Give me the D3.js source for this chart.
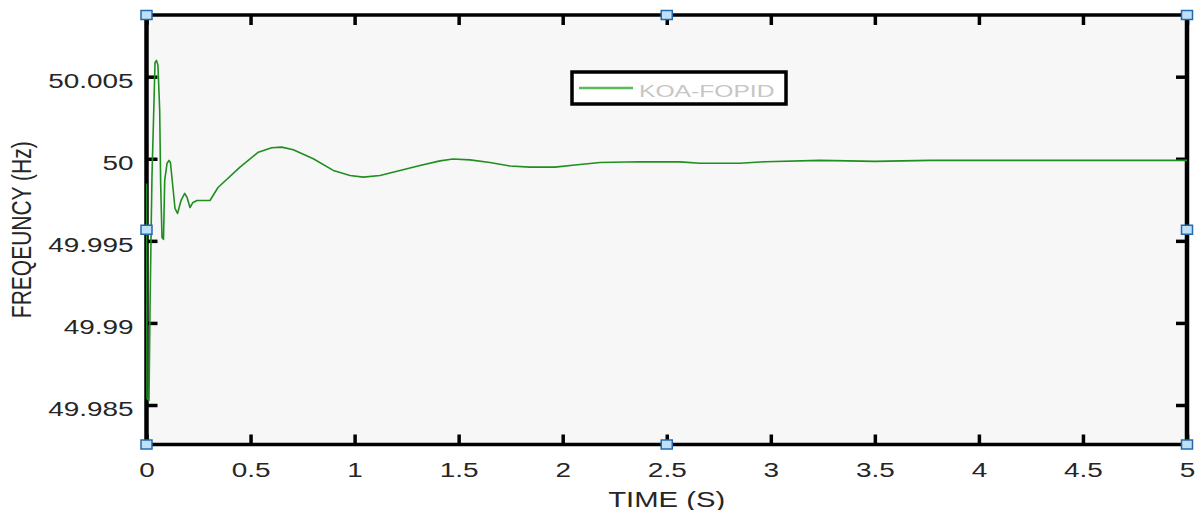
<!DOCTYPE html>
<html>
<head>
<meta charset="utf-8">
<script src="https://cdn.jsdelivr.net/npm/d3@7"></script>
<style>
  html, body { margin: 0; padding: 0; background: #ffffff; }
  svg { display: block; font-family: "Liberation Sans", Arial, sans-serif; }
</style>
</head>
<body>
<svg id="chart" width="1198" height="510"></svg>
<script>
// Frequency response of the KOA-FOPID controlled system
const timeS = [
  0, 0.0024, 0.012, 0.0168, 0.0216, 0.0264, 0.0336, 0.041, 0.048, 0.055,
  0.0634, 0.068, 0.0745, 0.0817, 0.0875, 0.0985, 0.108, 0.115, 0.127, 0.137,
  0.149, 0.166, 0.1836, 0.195, 0.209, 0.2234, 0.2427, 0.305, 0.3436, 0.4493,
  0.5372, 0.6016, 0.6497, 0.7054, 0.8015, 0.8976, 0.9779, 1.0418, 1.1221, 1.2182,
  1.3143, 1.4104, 1.4728, 1.5545, 1.6506, 1.7468, 1.8429, 1.963, 2.0591, 2.1792,
  2.3714, 2.5637, 2.6598, 2.852, 2.972, 3.236, 3.5, 3.765, 5.0
];
const freqHz = [
  49.9985, 49.9854, 49.98528, 49.99076, 49.99502, 49.99898, 50.00233, 50.00587, 50.00599, 50.00569,
  50.00294, 49.9985, 49.99521, 49.99509, 49.99868, 49.99971, 49.9999, 49.99977, 49.99825, 49.99697,
  49.99667, 49.99746, 49.99789, 49.99764, 49.99703, 49.99734, 49.99746, 49.99746, 49.99825, 49.99949,
  50.0004, 50.00067, 50.00071, 50.00055, 50.0, 49.99929, 49.99898, 49.99888, 49.99898, 49.99929,
  49.99959, 49.99987, 49.99999, 49.99993, 49.99977, 49.99956, 49.99949, 49.99949, 49.99962, 49.99977,
  49.99982, 49.99981, 49.99973, 49.99973, 49.99982, 49.9999, 49.99984, 49.9999, 49.9999
];
const xTickValues = [0, 0.5, 1, 1.5, 2, 2.5, 3, 3.5, 4, 4.5, 5];
const xTickLabels = ["0", "0.5", "1", "1.5", "2", "2.5", "3", "3.5", "4", "4.5", "5"];
const yTickValues = [49.985, 49.99, 49.995, 50, 50.005];
const yTickLabels = ["49.985", "49.99", "49.995", "50", "50.005"];
const seriesName = "KOA-FOPID";
const xTitle = "TIME (S)";
const yTitle = "FREQEUNCY (Hz)";

const svg = d3.select("#chart");
const plotL = 146.5, plotR = 1187, plotT = 15, plotB = 444.5;
const stretch = 1.33;

const x = d3.scaleLinear().domain([0, 5]).range([plotL, plotR]);
const y = d3.scaleLinear().domain([49.982594, 50.008758]).range([plotB, plotT]);

svg.append("defs").append("clipPath").attr("id", "plot-clip")
  .append("rect")
  .attr("x", plotL - 1).attr("y", plotT)
  .attr("width", plotR - plotL + 2).attr("height", plotB - plotT);

// plot background
svg.append("rect")
  .attr("x", plotL).attr("y", plotT)
  .attr("width", plotR - plotL).attr("height", plotB - plotT)
  .attr("fill", "#f7f7f7");

// axes with inward ticks on all four sides
function styleTicks(g) {
  g.select(".domain").remove();
  g.selectAll(".tick line").attr("stroke", "#000").attr("stroke-width", 3.5);
}

const xBottom = svg.append("g")
  .attr("transform", `translate(0,${plotB})`)
  .call(d3.axisBottom(x).tickValues(xTickValues).tickFormat((d, i) => xTickLabels[i])
    .tickSizeInner(-10).tickSizeOuter(0));
styleTicks(xBottom);
xBottom.selectAll(".tick text")
  .attr("y", 0).attr("dy", null)
  .attr("transform", `translate(0,32) scale(${stretch},1)`)
  .attr("font-size", 21).attr("fill", "#262626")
  .attr("font-family", "Liberation Sans, Arial, sans-serif");

const xTop = svg.append("g")
  .attr("transform", `translate(0,${plotT})`)
  .call(d3.axisTop(x).tickValues(xTickValues).tickFormat("")
    .tickSizeInner(-10).tickSizeOuter(0));
styleTicks(xTop);

const yLeft = svg.append("g")
  .attr("transform", `translate(${plotL},0)`)
  .call(d3.axisLeft(y).tickValues(yTickValues).tickFormat((d, i) => yTickLabels[i])
    .tickSizeInner(-11).tickSizeOuter(0));
styleTicks(yLeft);
yLeft.selectAll(".tick text")
  .attr("x", 0).attr("dy", null)
  .attr("text-anchor", "end")
  .attr("transform", `translate(-13,10.5) scale(${stretch},1)`)
  .attr("font-size", 21).attr("fill", "#262626")
  .attr("font-family", "Liberation Sans, Arial, sans-serif");

const yRight = svg.append("g")
  .attr("transform", `translate(${plotR},0)`)
  .call(d3.axisRight(y).tickValues(yTickValues).tickFormat("")
    .tickSizeInner(-11).tickSizeOuter(0));
styleTicks(yRight);

// box frame
const frame = svg.append("g").attr("stroke", "#000");
frame.append("line").attr("x1", plotL).attr("x2", plotR).attr("y1", plotT).attr("y2", plotT).attr("stroke-width", 3.5);
frame.append("line").attr("x1", plotL).attr("x2", plotR).attr("y1", plotB).attr("y2", plotB).attr("stroke-width", 3.5);
frame.append("line").attr("x1", plotL).attr("x2", plotL).attr("y1", plotT).attr("y2", plotB).attr("stroke-width", 4.5);
frame.append("line").attr("x1", plotR).attr("x2", plotR).attr("y1", plotT).attr("y2", plotB).attr("stroke-width", 4.5);

// data line, drawn over the frame
const pts = timeS.map((t, i) => [t, freqHz[i]]);
svg.append("path")
  .datum(pts)
  .attr("clip-path", "url(#plot-clip)")
  .attr("fill", "none")
  .attr("stroke", "#1f8f1f")
  .attr("stroke-width", 1.6)
  .attr("stroke-linejoin", "round")
  .attr("d", d3.line().x(d => x(d[0])).y(d => y(d[1])));

// axis titles
svg.append("text")
  .attr("transform", `translate(${(plotL + plotR) / 2},507) scale(${stretch},1)`)
  .attr("text-anchor", "middle")
  .attr("font-size", 22).attr("fill", "#262626")
  .text(xTitle);

svg.append("text")
  .attr("transform", `translate(31,${(plotT + plotB) / 2}) scale(${stretch},1) rotate(-90)`)
  .attr("text-anchor", "middle")
  .attr("font-size", 21).attr("fill", "#262626")
  .text(yTitle);

// legend
const legend = svg.append("g");
legend.append("rect")
  .attr("x", 572).attr("y", 72).attr("width", 214).attr("height", 32)
  .attr("fill", "#ffffff").attr("stroke", "#000").attr("stroke-width", 3.5);
legend.append("line")
  .attr("x1", 579).attr("x2", 633).attr("y1", 88).attr("y2", 88)
  .attr("stroke", "#5cb85c").attr("stroke-width", 2.5);
legend.append("text")
  .attr("transform", `translate(639,96.5) scale(1.45,1)`)
  .attr("font-size", 17).attr("fill", "#c6c6c6")
  .text(seriesName);

// selection handles: corners and edge midpoints of the frame
const hx = [plotL, (plotL + plotR) / 2, plotR];
const hy = [plotT, (plotT + plotB) / 2, plotB];
const handles = [];
hx.forEach((a, i) => hy.forEach((b, j) => {
  if (i === 1 && j === 1) return;
  handles.push([a, b]);
}));
svg.append("g").selectAll("rect")
  .data(handles)
  .join("rect")
  .attr("x", d => d[0] - 5.5).attr("y", d => d[1] - 4.5)
  .attr("width", 11).attr("height", 9)
  .attr("fill", "#bfe1f8").attr("stroke", "#2569ad").attr("stroke-width", 1.5);
</script>
</body>
</html>
